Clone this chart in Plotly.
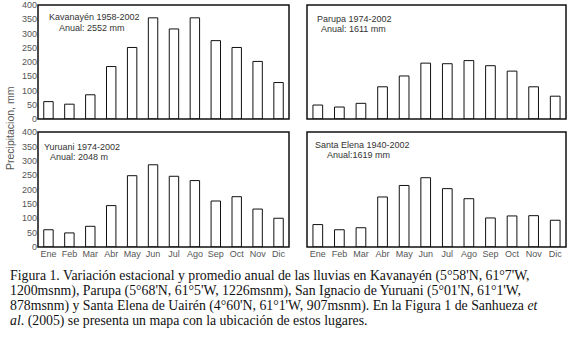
import plotly.graph_objects as go

months = ["Ene", "Feb", "Mar", "Abr", "May", "Jun", "Jul", "Ago", "Sep", "Oct", "Nov", "Dic"]
kavanayen = [61, 52, 85, 184, 251, 355, 316, 355, 275, 251, 202, 128]
parupa = [49, 42, 55, 113, 151, 196, 194, 205, 187, 168, 113, 80]
yuruani = [60, 49, 72, 144, 248, 286, 246, 231, 160, 175, 132, 100]
santa_elena = [78, 60, 67, 174, 214, 241, 203, 168, 101, 108, 109, 93]

panel_labels = [
    ("Kavanayén 1958-2002", "Anual: 2552 mm"),
    ("Parupa 1974-2002", "Anual: 1611 mm"),
    ("Yuruani 1974-2002", "Anual: 2048 m"),
    ("Santa Elena 1940-2002", "Anual:1619 mm"),
]
y_ticks = [0, 50, 100, 150, 200, 250, 300, 350, 400]
y_title = "Precipitacion, mm"
caption_lines = [
    "Figura 1. Variación estacional y promedio anual de las lluvias en Kavanayén (5°58'N, 61°7'W,",
    "1200msnm), Parupa (5°68'N, 61°5'W, 1226msnm), San Ignacio de Yuruani (5°01'N, 61°1'W,",
    "878msnm) y Santa Elena de Uairén (4°60'N, 61°1'W, 907msnm). En la Figura 1 de Sanhueza <i>et</i>",
    "<i>al</i>. (2005) se presenta un mapa con la ubicación de estos lugares.",
]

W, H = 577, 338
fig = go.Figure()

series = [kavanayen, parupa, yuruani, santa_elena]
pos = [(1, 1), (1, 2), (2, 1), (2, 2)]
xdom = {1: [38 / W, 289 / W], 2: [307 / W, 566 / W]}
ydom = {1: [1 - 119 / H, 1 - 5 / H], 2: [1 - 247 / H, 1 - 132 / H]}

layout_axes = {}
for i, (s, (r, c)) in enumerate(zip(series, pos)):
    n = "" if i == 0 else str(i + 1)
    fig.add_trace(
        go.Bar(x=months, y=s, width=0.45, xaxis="x" + n, yaxis="y" + n,
               marker=dict(color="white", line=dict(color="#111", width=1)),
               showlegend=False, hoverinfo="skip")
    )
    layout_axes["xaxis" + n] = dict(
        domain=xdom[c], anchor="y" + n, showline=False, showgrid=False, ticks="",
        showticklabels=(r == 2),
        tickfont=dict(family="Liberation Sans, Arial", size=9, color="#555"),
        automargin=False, type="category", fixedrange=True)
    layout_axes["yaxis" + n] = dict(
        domain=ydom[r], anchor="x" + n, range=[0, 400], tickvals=y_ticks,
        showline=False, showgrid=False, zeroline=False, ticks="",
        showticklabels=(c == 1),
        tickfont=dict(family="Liberation Sans, Arial", size=9, color="#555"),
        automargin=False, fixedrange=True)
    fig.add_shape(type="rect", xref="x" + n + " domain", yref="y" + n + " domain",
                  x0=0, x1=1, y0=0, y1=1, line=dict(color="#111", width=1.5),
                  fillcolor="rgba(0,0,0,0)", layer="above")

fig.update_layout(**layout_axes)

label_pos = [
    ((47, 17), (57, 28)),
    ((315, 19), (319, 29)),
    ((42, 147), (48, 157)),
    ((313, 145), (325, 155)),
]
for (t1, t2), ((x1, y1), (x2, y2)) in zip(panel_labels, label_pos):
    for t, x, y in ((t1, x1, y1), (t2, x2, y2)):
        fig.add_annotation(text=t, xref="paper", yref="paper", x=x / W, y=1 - y / H,
                           xanchor="left", yanchor="middle", showarrow=False,
                           font=dict(family="Liberation Sans, Arial", size=9, color="#333"))

fig.add_annotation(text=y_title, xref="paper", yref="paper", x=10 / W, y=1 - 128 / H,
                   textangle=-90, showarrow=False, xanchor="center", yanchor="middle",
                   font=dict(family="Liberation Sans, Arial", size=10.5, color="#555"))

for i, line in enumerate(caption_lines):
    fig.add_annotation(text=line, xref="paper", yref="paper", x=8 / W,
                       y=1 - (276 + 15 * i) / H, xanchor="left", yanchor="middle",
                       showarrow=False,
                       font=dict(family="Liberation Serif, Times New Roman", size=13.8, color="#111"))

fig.update_layout(width=W, height=H, margin=dict(l=0, r=0, t=0, b=0, autoexpand=False),
                  paper_bgcolor="white", plot_bgcolor="white", bargap=0.55)

fig.write_html("out.html", config={"displayModeBar": False},
               post_script="document.body.style.margin='0';")
